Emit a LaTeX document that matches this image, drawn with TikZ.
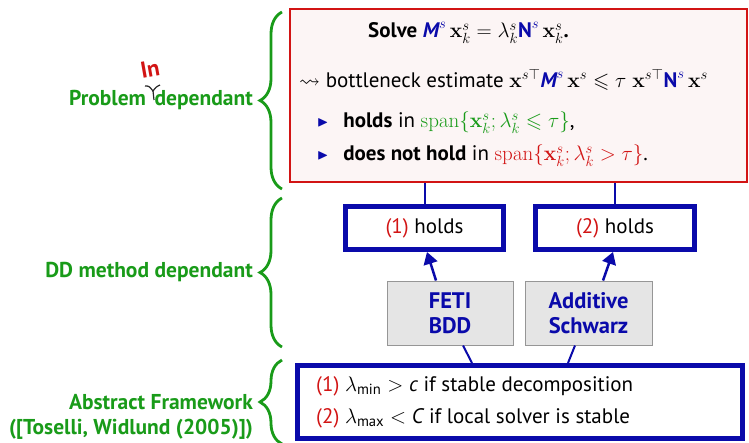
\RequirePackage{fix-cm}
\documentclass[tikz,border=0pt]{standalone}
\usepackage{amsmath,amssymb}
\usepackage[no-math]{fontspec}
\setmainfont{PT Sans}
\usetikzlibrary{decorations.pathreplacing,arrows.meta,calc}
\definecolor{myred}{RGB}{210,20,20}
\definecolor{myblue}{RGB}{10,10,170}
\definecolor{mygreen}{RGB}{25,155,25}
\definecolor{redfill}{RGB}{252,245,245}
\definecolor{grayfill}{RGB}{229,229,229}
\definecolor{graydraw}{RGB}{150,150,150}
\newcommand{\bM}{\text{\bfseries\itshape M}}
\newcommand{\bN}{\text{\bfseries N}}
\newcommand{\bx}{\mathbf{x}}
\newcommand{\tribul}{{\color{myblue}\raisebox{1pt}{\scalebox{0.7}{$\blacktriangleright$}}}\hspace{0.7em}}
\begin{document}
\begin{tikzpicture}[x=1pt,y=-1pt,
  every node/.style={font=\fontsize{21}{25}\selectfont},
  redbox/.style={draw=myred,line width=2pt,fill=redfill,minimum width=457pt,minimum height=173pt,inner sep=0},
  bluebox/.style={draw=myblue,line width=5pt,fill=white,minimum height=43pt,inner sep=0},
  graybox/.style={draw=graydraw,line width=1pt,fill=grayfill,minimum width=126pt,minimum height=64pt,inner sep=0,align=center,text=myblue,font=\fontsize{22.5}{25}\selectfont\bfseries},
  bracestyle/.style={draw=mygreen,line width=2.8pt,decorate,decoration={brace,amplitude=22pt}},
  leftlabel/.style={text=mygreen,font=\fontsize{21.5}{25}\selectfont\bfseries,anchor=east,inner sep=0},
  conn/.style={draw=myblue,line width=2pt},
  arr/.style={draw=myblue,line width=2.5pt,-{Triangle[length=12pt,width=14pt]}},
  txt/.style={anchor=west,inner sep=0}
]
\useasboundingbox (0,0) rectangle (749,442);

% main boxes
\node[redbox] (red) at (518.5,95.5) {};
\node[bluebox,minimum width=158pt] (b1) at (424.5,228) {{\color{myred}(1)} holds};
\node[bluebox,minimum width=159pt] (b2) at (615,228) {{\color{myred}(2)} holds};
\node[graybox] (g1) at (450,313) {FETI\\BDD};
\node[graybox,minimum width=127pt] (g2) at (588.5,313) {Additive\\Schwarz};
\node[draw=myblue,line width=5pt,fill=white,minimum width=445pt,minimum height=73pt,inner sep=0] (fw) at (520,402) {};

% text inside red box
\node[txt] (t1) at (368,33) {\textbf{Solve} $\color{myblue}\bM^{s}\,\color{black}\bx_k^s=\lambda_k^s\color{myblue}\bN^{s}\,\color{black}\bx_k^s$\textbf{.}};
\node[txt] (t2) at (299,80) {$\rightsquigarrow$ bottleneck estimate $\bx^{s\top}{\color{myblue}\bM^{s}}\,\bx^s\leqslant\tau\;\bx^{s\top}{\color{myblue}\bN^{s}}\,\bx^s$};
\node[txt] (t3) at (317,123) {\tribul\textbf{holds} in {\color{mygreen}$\mathrm{span}\{\bx_k^s;\lambda_k^s\leqslant\tau\}$},};
\node[txt] (t4) at (317,156) {\tribul\textbf{does not hold} in {\color{myred}$\mathrm{span}\{\bx_k^s;\lambda_k^s>\tau\}$}.};

% text inside framework box
\node[txt] (f1) at (316,386) {{\color{myred}(1)} $\lambda_{\text{min}}>\text{\itshape c}$ if stable decomposition};
\node[txt] (f2) at (316,418) {{\color{myred}(2)} $\lambda_{\text{max}}<\text{\itshape C}$ if local solver is stable};

% connectors
\draw[conn] (red.south -| b1) -- (b1.north);
\draw[conn] (red.south -| b2) -- (b2.north);
\draw[arr] ($(g1.north)+(-14,0)$) -- ($(b1.south)+(2.5,0)$);
\draw[arr] ($(g2.north)+(14.5,0)$) -- ($(b2.south)+(-2,0)$);
\draw[conn] ($(g1.south)+(13,0)$) -- ($(fw.north)+(-48,0)$);
\draw[conn] ($(g2.south)+(-13.5,0)$) -- ($(fw.north)+(48,0)$);

% braces
\draw[bracestyle] (282,189) -- (282,12);
\draw[bracestyle] (282,347) -- (282,198);
\draw[bracestyle] (282,444) -- (282,360);

% left labels
\node[leftlabel] (l1) at (253,100) {Problem\hspace{0.4em}dependant};
\node[leftlabel] (l2) at (253,272) {DD method dependant};
\node[leftlabel] (l3) at (253,402) {Abstract Framework};
\node[leftlabel] (l4) at (253,429) {([Toselli, Widlund (2005)])};

% "In" insertion mark
\node[text=myred,font=\fontsize{23}{26}\selectfont\bfseries,rotate=10,inner sep=0] (in) at (150,69) {In};
\coordinate (ca) at (145,86);
\coordinate (cb) at (160,85);
\coordinate (cm) at (153,91);
\coordinate (cs) at (154,100);
\draw[black!85,line width=1.2pt] (ca) .. controls (149,86) .. (cm) .. controls (156,87) .. (cb);
\draw[black!85,line width=1.2pt] (cm) -- (cs);
\end{tikzpicture}
\end{document}
